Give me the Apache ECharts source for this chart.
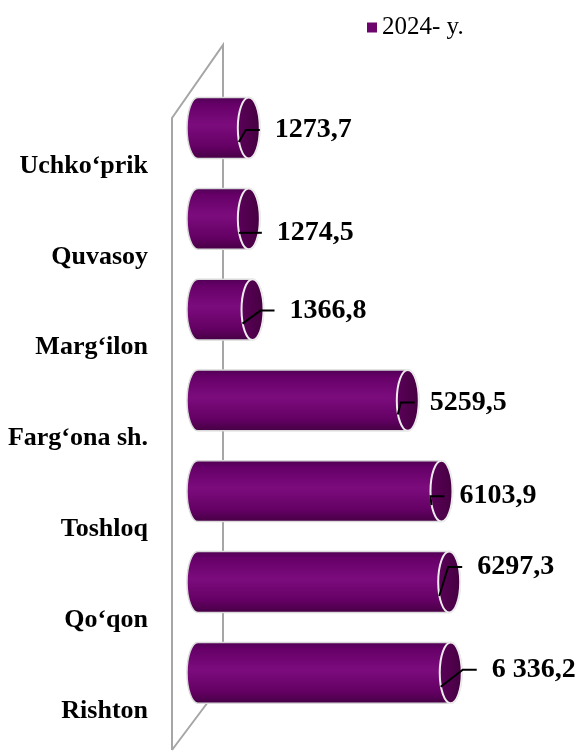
<!DOCTYPE html>
<html>
<head>
<meta charset="utf-8">
<script src="https://cdn.jsdelivr.net/npm/echarts@6/dist/echarts.min.js"></script>
<style>
  html, body { margin: 0; padding: 0; background: #fff; }
  #chart { width: 583px; height: 753px; }
</style>
</head>
<body>
<div id="chart"></div>
<script>
// data
const categories = ['Uchko‘prik', 'Quvasoy', 'Marg‘ilon', 'Farg‘ona sh.', 'Toshloq', 'Qo‘qon', 'Rishton'];
const values = [1273.7, 1274.5, 1366.8, 5259.5, 6103.9, 6297.3, 6336.2];
const valueLabels = ['1273,7', '1274,5', '1366,8', '5259,5', '6103,9', '6297,3', '6 336,2'];
const seriesName = '2024- y.';

// hand-moved data labels in the original (pixel shift from bar end)
const labelShift = [[26, 2], [28, 14], [37, 1], [22, 2], [18, 5], [28, -15], [41, -3]];

let myChart = echarts.init(document.getElementById('chart'));

function renderCylinder(params, api) {
  let i = params.dataIndex;
  let start = api.coord([0, i]);
  let end = api.coord([api.value(0), i]);
  let band = api.size([0, 1])[1];
  let x0 = start[0], x1 = end[0], cy = start[1];
  let ry = band * 0.335, rx = 11;
  let top = cy - ry, bot = cy + ry;

  let body = 'M' + x0 + ' ' + top + ' L' + x1 + ' ' + top +
    ' A' + rx + ' ' + ry + ' 0 0 1 ' + x1 + ' ' + bot +
    ' L' + x0 + ' ' + bot +
    ' A' + rx + ' ' + ry + ' 0 0 1 ' + x0 + ' ' + top + ' Z';
  let cap = 'M' + (x1 - rx) + ' ' + cy +
    ' A' + rx + ' ' + ry + ' 0 1 1 ' + (x1 + rx) + ' ' + cy +
    ' A' + rx + ' ' + ry + ' 0 1 1 ' + (x1 - rx) + ' ' + cy + ' Z';

  let sh = labelShift[i];
  let lx = x1 + sh[0], ly = cy + sh[1];

  return {
    type: 'group',
    children: [
      {
        type: 'path',
        shape: { pathData: body },
        style: {
          fill: new echarts.graphic.LinearGradient(0, 0, 0, 1, [
            { offset: 0, color: '#4e0052' },
            { offset: 0.12, color: '#660068' },
            { offset: 0.45, color: '#7c0c7d' },
            { offset: 0.8, color: '#640064' },
            { offset: 1, color: '#440042' },
          ]),
          stroke: '#d9d9d9',
          lineWidth: 1.5,
        },
      },
      {
        type: 'path',
        shape: { pathData: cap },
        style: {
          fill: new echarts.graphic.LinearGradient(0, 0, 1, 0, [
            { offset: 0, color: '#5c005a' },
            { offset: 1, color: '#44003f' },
          ]),
          stroke: '#ececec',
          lineWidth: 2,
        },
      },
      {
        type: 'polyline',
        shape: {
          points: [[x1 - 10, cy + 14], [lx - 29, ly], [lx - 15, ly]],
        },
        style: { stroke: '#000', lineWidth: 2, fill: null },
      },
      {
        type: 'text',
        style: {
          x: lx,
          y: ly,
          text: valueLabels[i],
          fill: '#000',
          font: 'bold 28px "Liberation Serif"',
          align: 'left',
          verticalAlign: 'middle',
        },
      },
    ],
  };
}

let option = {
  animation: false,
  legend: {
    data: [seriesName],
    left: 362,
    top: 10,
    icon: 'rect',
    itemWidth: 10,
    itemHeight: 10,
    itemGap: 5,
    textStyle: {
      color: '#000',
      fontFamily: 'Liberation Serif',
      fontSize: 25,
    },
  },
  grid: {
    left: 198,
    right: 26,
    top: 82.6,
    bottom: 34.8,
  },
  xAxis: {
    type: 'value',
    min: 0,
    max: 9000,
    show: false,
  },
  yAxis: {
    type: 'category',
    data: categories,
    inverse: true,
    axisLine: { show: false },
    axisTick: { show: false },
    splitLine: { show: false },
    axisLabel: {
      interval: 0,
      margin: 50,
      // labels sit between the bars, a bit below each one
      verticalAlign: 'top',
      lineHeight: 76,
      color: '#000',
      fontFamily: 'Liberation Serif',
      fontWeight: 'bold',
      fontSize: 26,
    },
  },
  // back wall of the 3D plot
  graphic: [
    {
      type: 'polyline',
      z: 0,
      shape: { points: [[172, 750], [172, 118], [223, 45], [223, 682], [172, 750]] },
      style: { stroke: '#a6a6a6', lineWidth: 2, fill: null },
    },
  ],
  series: [
    {
      name: seriesName,
      type: 'custom',
      z: 5,
      itemStyle: { color: '#6c066c' },
      encode: { x: 0, y: 1 },
      data: values.map((v, i) => [v, i]),
      renderItem: renderCylinder,
    },
  ],
};
myChart.setOption(option, true);
</script>
</body>
</html>
